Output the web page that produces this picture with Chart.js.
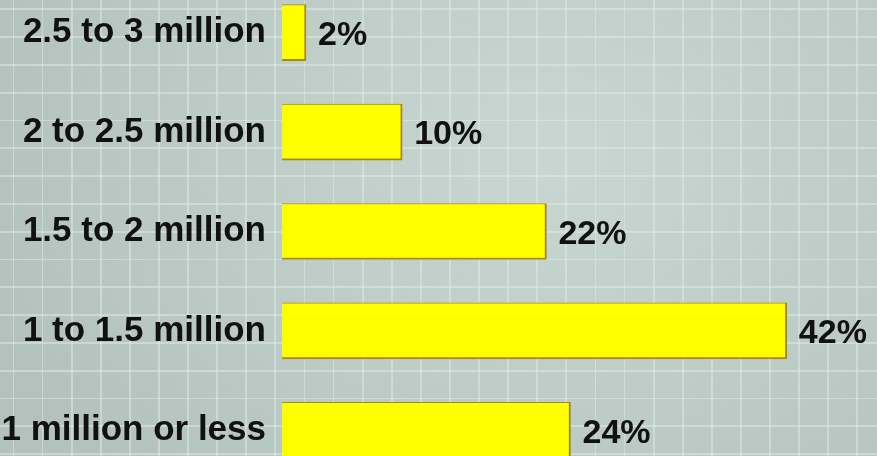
<!DOCTYPE html>
<html>
<head>
<meta charset="utf-8">
<script src="https://cdn.jsdelivr.net/npm/chart.js@4"></script>
<style>
  html, body { margin: 0; padding: 0; width: 877px; height: 456px; overflow: hidden; }
  body {
    position: relative;
    background-color: #b3c3be;
    background-image:
      repeating-linear-gradient(90deg, transparent 0, transparent 12.6px, rgba(225,235,230,0.5) 12.6px, rgba(225,235,230,0.5) 14.4px, transparent 14.4px, transparent 29.1px),
      repeating-linear-gradient(0deg, transparent 0, transparent 1px, rgba(225,235,230,0.5) 1px, rgba(225,235,230,0.5) 2.8px, transparent 2.8px, transparent 27.8px),
      radial-gradient(ellipse 600px 480px at 560px 150px, #c9d7d3 0%, #bfcdc9 50%, #b3c2bd 100%);
  }
  #wrap { position: absolute; left: 0; top: -46px; width: 877px; height: 555px; }
</style>
</head>
<body>
<div id="wrap"><canvas id="chart"></canvas></div>
<script>
// Datos del gráfico
const categories = ['2.5 to 3 million', '2 to 2.5 million', '1.5 to 2 million', '1 to 1.5 million', '1 million or less'];
const shares = [2, 10, 22, 42, 24];

const labelFont = { family: 'Liberation Sans, Arial, sans-serif', size: 35, weight: 'bold' };

// Etiquetas de porcentaje al final de cada barra
const valueLabels = {
    id: 'valueLabels',
    afterDatasetsDraw(chart) {
        const ctx = chart.ctx;
        const meta = chart.getDatasetMeta(0);
        ctx.save();
        ctx.font = `${labelFont.weight} 34px ${labelFont.family}`;
        ctx.fillStyle = '#111';
        ctx.textAlign = 'left';
        ctx.textBaseline = 'middle';
        meta.data.forEach((bar, i) => {
            ctx.fillText(shares[i] + '%', bar.x + 12, bar.y + 3);
        });
        ctx.restore();
    }
};

new Chart(document.getElementById('chart'), {
    type: 'bar',
    data: {
        labels: categories,
        datasets: [{
            data: shares,
            backgroundColor: '#ffff00',
            borderColor: '#a88a1a',
            borderWidth: { top: 1, right: 2, bottom: 2, left: 0 },
            borderSkipped: false,
            barThickness: 56
        }]
    },
    options: {
        indexAxis: 'y',
        responsive: true,
        maintainAspectRatio: false,
        animation: false,
        layout: { padding: 0 },
        plugins: {
            legend: { display: false },
            tooltip: { enabled: false }
        },
        scales: {
            x: { display: false, min: 0, max: 49.5 },
            y: {
                afterFit(scale) { scale.width = 282; },
                grid: { display: false },
                border: { display: false },
                ticks: {
                    color: '#111',
                    font: labelFont,
                    padding: 8
                }
            }
        }
    },
    plugins: [valueLabels]
});
</script>
</body>
</html>
